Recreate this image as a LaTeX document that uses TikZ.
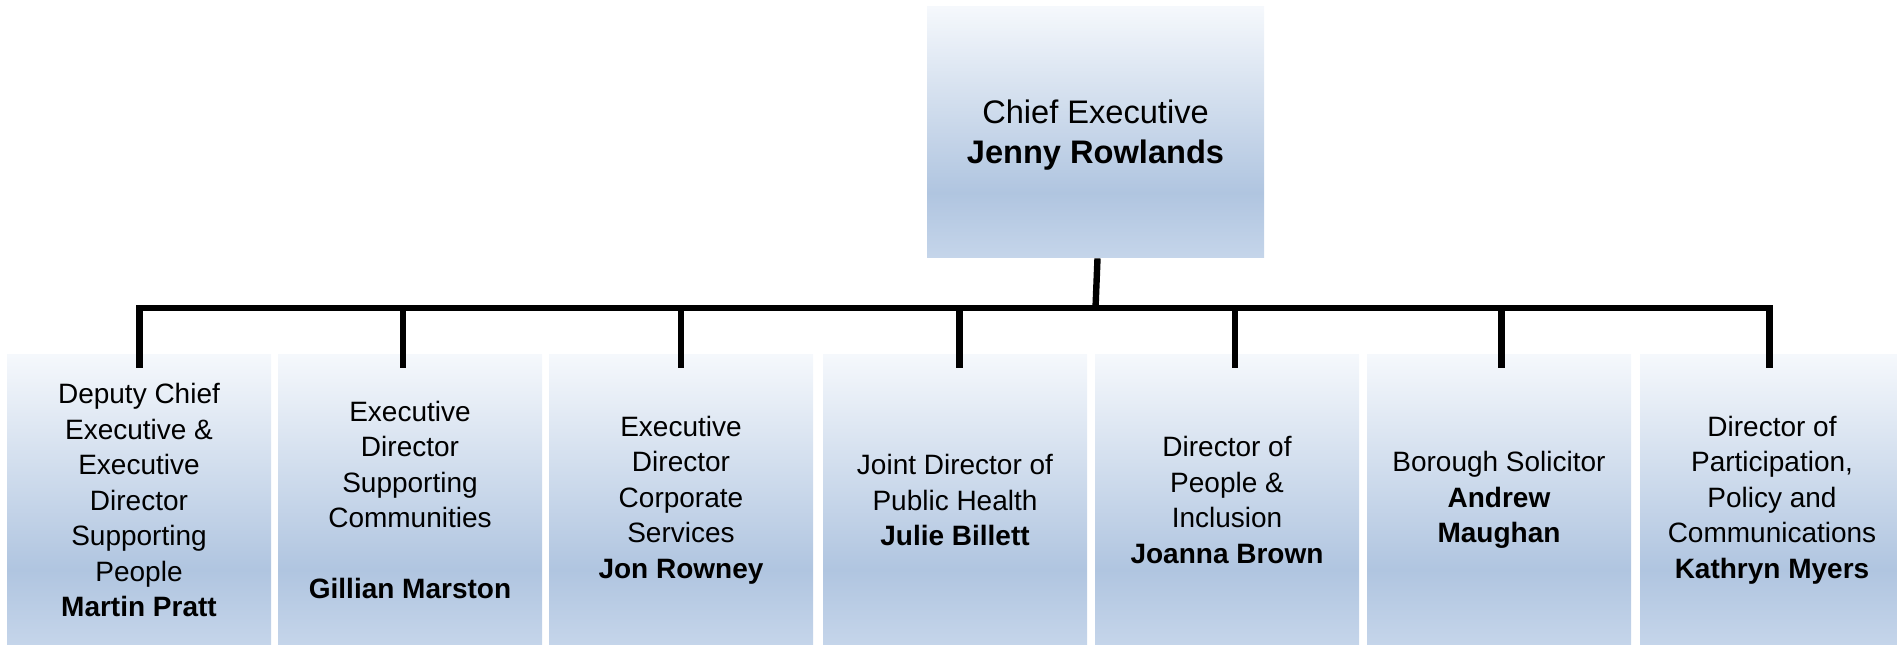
\documentclass[tikz,border=0pt]{standalone}
\usepackage{fontspec}
\setmainfont{Liberation Sans}

\definecolor{boxtop}{HTML}{F5F8FC}
\definecolor{boxmid}{HTML}{B0C5E0}
\definecolor{boxbot}{HTML}{C5D5EA}
\pgfdeclareverticalshading{orgfill}{100bp}{color(0bp)=(boxbot); color(25bp)=(boxbot);
  color(38bp)=(boxmid); color(75bp)=(boxtop); color(100bp)=(boxtop)}

\begin{document}
\begin{tikzpicture}[
                x=0.5pt, y=-0.5pt,
                orgbox/.style={shade, shading=orgfill, draw=none, inner sep=0pt,
                    minimum width=132pt, minimum height=145pt},
                staff/.style={align=center, inner sep=0pt,
                    font=\fontsize{14pt}{17.75pt}\selectfont},
                chiefstaff/.style={align=center, inner sep=0pt,
                    font=\fontsize{16.3pt}{20pt}\selectfont},
                link/.style={line width=3.2pt, line join=miter} ]

            \useasboundingbox (0,0) rectangle (1897,646);

            % top of the tree
            \node[orgbox, minimum width=168.5pt, minimum height=125.5pt]
                (chief) at (1095.5,132.5) {};
            \node[chiefstaff] (chieftext) at (1095.5,135)
                {Chief Executive\\\textbf{Jenny Rowlands}};

            % directors
            \foreach \i/\x in {1/139, 2/410, 3/681, 4/955, 5/1227, 6/1499, 7/1772} {
                    \node[orgbox] (b\i) at (\x,500) {};
                }

            \node[staff] (t1) at (b1) {Deputy Chief\\Executive \&\\Executive\\Director\\Supporting\\People\\\textbf{Martin Pratt}};
            \node[staff] (t2) at (b2) {Executive\\Director\\Supporting\\Communities\\~\\\textbf{Gillian Marston}};
            \node[staff] (t3) at (b3) {Executive\\Director\\Corporate\\Services\\\textbf{Jon Rowney}};
            \node[staff] (t4) at (b4) {Joint Director of\\Public Health\\\textbf{Julie Billett}};
            \node[staff] (t5) at (b5) {Director of\\People \&\\Inclusion\\\textbf{Joanna Brown}};
            \node[staff] (t6) at (b6) {Borough Solicitor\\\textbf{Andrew}\\\textbf{Maughan}};
            \node[staff] (t7) at (b7) {Director of\\Participation,\\Policy and\\Communications\\\textbf{Kathryn Myers}};

            % connectors
            \coordinate (hub) at (1095.5,308);
            \foreach \i/\dx in {1/0.5, 2/-7, 3/0, 4/4.5, 5/8, 6/2.5, 7/-2.5} {
                    \coordinate (d\i) at ([xshift=\dx*0.5pt, yshift=-6.5pt]b\i.north);
                }
            \draw[link] ([xshift=1pt]chief.south) -- (hub);
            \draw[link] (d1) -- (d1 |- hub) -- (d7 |- hub) -- (d7);
            \foreach \i in {2, 3, 4, 5, 6} {
                    \draw[link] (d\i |- hub) -- (d\i);
                }
        \end{tikzpicture}
\end{document}
